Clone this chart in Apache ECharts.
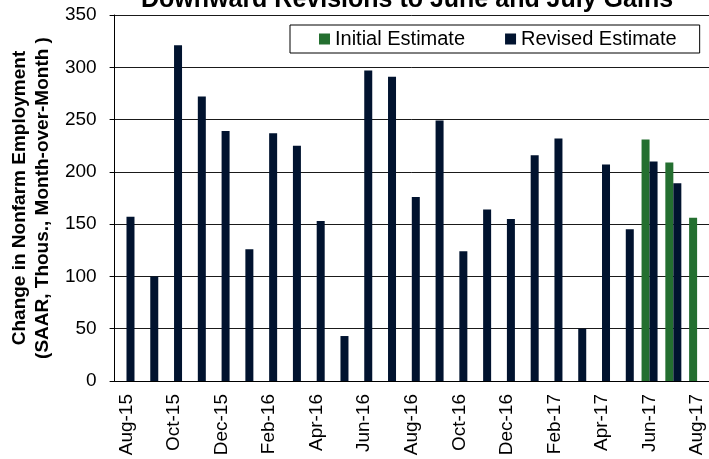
<!DOCTYPE html>
<html>
<head>
<meta charset="utf-8">
<script src="https://cdn.jsdelivr.net/npm/echarts@6/dist/echarts.min.js"></script>
<style>
  html, body { margin: 0; padding: 0; background: #fff; }
  #jobsChart { width: 709px; height: 459px; }
</style>
</head>
<body>
<div id="jobsChart"></div>
<script>
const months = ['Aug-15', 'Sep-15', 'Oct-15', 'Nov-15', 'Dec-15', 'Jan-16', 'Feb-16', 'Mar-16',
  'Apr-16', 'May-16', 'Jun-16', 'Jul-16', 'Aug-16', 'Sep-16', 'Oct-16', 'Nov-16', 'Dec-16',
  'Jan-17', 'Feb-17', 'Mar-17', 'Apr-17', 'May-17', 'Jun-17', 'Jul-17', 'Aug-17']
const initialEstimate = [null, null, null, null, null, null, null, null, null, null, null, null,
  null, null, null, null, null, null, null, null, null, null, 231, 209, 156]
const revisedEstimate = [157, 100, 321, 272, 239, 126, 237, 225, 153, 43, 297, 291,
  176, 249, 124, 164, 155, 216, 232, 50, 207, 145, 210, 189, null]
const yTicks = { min: 0, max: 350, step: 50 }

const font = 'Liberation Sans, Arial, sans-serif'
const chart = echarts.init(document.getElementById('jobsChart'))
const option = {
  animation: false,
  title: {
    text: 'Downward Revisions to June and July Gains',
    left: 141,
    top: -12,
    padding: 0,
    textStyle: { fontFamily: font, fontSize: 25, fontWeight: 'bold', color: '#000' }
  },
  legend: {
    data: ['Initial Estimate', 'Revised Estimate'],
    left: 290,
    top: 25,
    padding: [4, 23, 4, 29],
    borderColor: '#000',
    borderWidth: 1,
    itemWidth: 11,
    itemHeight: 11,
    itemGap: 40,
    icon: 'rect',
    textStyle: { fontFamily: font, fontSize: 20, color: '#000' }
  },
  grid: {
    left: 109,
    right: -1,
    top: 15,
    bottom: 78
  },
  xAxis: {
    type: 'category',
    data: months,
    boundaryGap: true,
    axisLine: { lineStyle: { color: '#000', width: 1 } },
    axisTick: { interval: 1, length: 6, lineStyle: { color: '#000' } },
    axisLabel: {
      interval: 1,
      rotate: 90,
      margin: 13,
      fontFamily: font,
      fontSize: 19,
      color: '#000'
    }
  },
  yAxis: {
    type: 'value',
    min: yTicks.min,
    max: yTicks.max,
    interval: yTicks.step,
    name: 'Change in Nonfarm Employment\n(SAAR, Thous., Month-over-Month )',
    nameLocation: 'middle',
    nameGap: 58,
    nameTextStyle: {
      fontFamily: font,
      fontSize: 19,
      fontWeight: 'bold',
      color: '#000',
      lineHeight: 23
    },
    axisLine: { show: true, lineStyle: { color: '#000', width: 1 } },
    axisTick: { show: true, length: 5, lineStyle: { color: '#000' } },
    axisLabel: { margin: 18, fontFamily: font, fontSize: 19, color: '#000' },
    splitLine: { lineStyle: { color: '#1a1a1a', width: 1 } }
  },
  series: [
    {
      name: 'Initial Estimate',
      type: 'bar',
      data: initialEstimate,
      barWidth: 8,
      barGap: '0%',
      itemStyle: { color: '#246f30' }
    },
    {
      name: 'Revised Estimate',
      type: 'bar',
      data: revisedEstimate,
      barWidth: 8,
      barGap: '0%',
      itemStyle: { color: '#01132f' }
    }
  ]
}
chart.setOption(option)
</script>
</body>
</html>
